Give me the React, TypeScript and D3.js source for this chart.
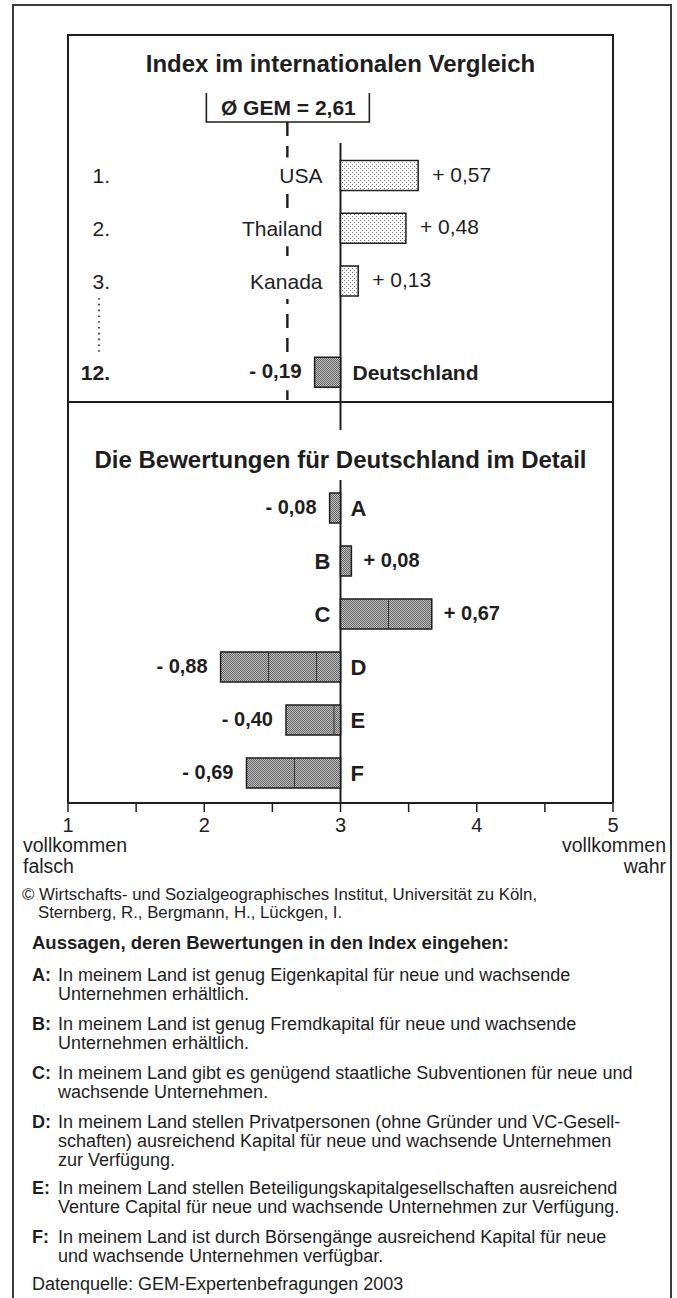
import React from "react";
import * as d3 from "d3";

// ---------- data ----------
const topRanks = ["1.", "2.", "3.", "12."];
const topCountries = ["USA", "Thailand", "Kanada", "Deutschland"];
const topValues = [0.57, 0.48, 0.13, -0.19];
const gemMean = 2.61;
const gemLabel = "Ø GEM = 2,61";

const detailItems = ["A", "B", "C", "D", "E", "F"];
const detailValues = [-0.08, 0.08, 0.67, -0.88, -0.4, -0.69];

const axisTicks = [1, 2, 3, 4, 5];
const axisMinor = [1, 1.5, 2, 2.5, 3, 3.5, 4, 4.5, 5];

const titleTop = "Index im internationalen Vergleich";
const titleBottom = "Die Bewertungen für Deutschland im Detail";
const leftEndLabel = ["vollkommen", "falsch"];
const rightEndLabel = ["vollkommen", "wahr"];
const copyrightLines = [
  "© Wirtschafts- und Sozialgeographisches Institut, Universität zu Köln,",
  "Sternberg, R., Bergmann, H., Lückgen, I.",
];
const statementsHeading = "Aussagen, deren Bewertungen in den Index eingehen:";
const statementKeys = ["A:", "B:", "C:", "D:", "E:", "F:"];
const statementLines = [
  ["In meinem Land ist genug Eigenkapital für neue und wachsende", "Unternehmen erhältlich."],
  ["In meinem Land ist genug Fremdkapital für neue und wachsende", "Unternehmen erhältlich."],
  ["In meinem Land gibt es genügend staatliche Subventionen für neue und", "wachsende Unternehmen."],
  [
    "In meinem Land stellen Privatpersonen (ohne Gründer und VC-Gesell-",
    "schaften) ausreichend Kapital für neue und wachsende Unternehmen",
    "zur Verfügung.",
  ],
  [
    "In meinem Land stellen Beteiligungskapitalgesellschaften ausreichend",
    "Venture Capital für neue und wachsende Unternehmen zur Verfügung.",
  ],
  ["In meinem Land ist durch Börsengänge ausreichend Kapital für neue", "und wachsende Unternehmen verfügbar."],
];
const sourceNote = "Datenquelle: GEM-Expertenbefragungen 2003";

// ---------- helpers ----------
const fmt = (v: number) =>
  (v >= 0 ? "+ " : "- ") + d3.format(".2f")(Math.abs(v)).replace(".", ",");

const FONT = "'Liberation Sans', Arial, Helvetica, sans-serif";
const INK = "#1e1e1e";

export default function App() {
  const W = 677;
  const H = 1298;

  // layout
  const frame = { left: 13, right: 671, top: 5 };
  const inner = { left: 68, right: 613, top: 35, divider: 402, axis: 803 };

  const x = d3.scaleLinear().domain([1, 5]).range([inner.left, inner.right]);
  const zero = x(3);

  // top panel rows (rank slots; Deutschland after the ellipsis)
  const topSlots = [0, 1, 2, 3.73];
  const yTop = d3.scaleLinear().domain([0, 1]).range([175.5, 228.25]);
  const barH = 30;

  // bottom panel rows
  const yBot = d3.scalePoint<string>().domain(detailItems).range([481.5, 799.5]).padding(0.5);

  const dashX = x(gemMean);
  const tile = 48;

  const statementStarts = [974, 1023, 1072, 1121, 1187, 1236];
  const lineGap = 19;
  const stFont = 18;

  return (
    <svg
      width={W}
      height={H}
      viewBox={`0 0 ${W} ${H}`}
      style={{ position: "absolute", left: 0, top: 0, background: "#fff" }}
      fontFamily={FONT}
    >
      <defs>
        <pattern id="light" width="4" height="4" patternUnits="userSpaceOnUse">
          <rect width="4" height="4" fill="#fff" />
          <rect x="0" y="0" width="1" height="1" fill="#777" />
          <rect x="2" y="2" width="1" height="1" fill="#777" />
        </pattern>
        <pattern id="dark" width="2" height="2" patternUnits="userSpaceOnUse">
          <rect width="2" height="2" fill="#bdbdbd" />
          <rect x="0" y="0" width="1" height="1" fill="#686868" />
          <rect x="1" y="1" width="1" height="1" fill="#686868" />
        </pattern>
      </defs>

      <rect width={W} height={H} fill="#fff" />

      {/* outer frame (open at bottom) */}
      <path
        d={`M${frame.left},${H} V${frame.top} H${frame.right} V${H}`}
        fill="none"
        stroke="#3a3a3a"
        strokeWidth={2}
      />

      {/* inner box */}
      <path
        d={`M${inner.left},${inner.axis} V${inner.top} H${inner.right} V${inner.axis}`}
        fill="none"
        stroke={INK}
        strokeWidth={2}
      />
      <line x1={inner.left} x2={inner.right} y1={inner.divider} y2={inner.divider} stroke={INK} strokeWidth={2} />

      {/* ---------- top panel ---------- */}
      <text x={(inner.left + inner.right) / 2} y={72} textAnchor="middle" fontSize={24} fontWeight="bold" fill={INK}>
        {titleTop}
      </text>

      {/* GEM bracket */}
      <path
        d={`M${dashX - 81},93 V122 H${dashX + 82} V93`}
        fill="none"
        stroke={INK}
        strokeWidth={1.6}
      />
      <text x={dashX + 1} y={115} textAnchor="middle" fontSize={21} fontWeight="bold" fill={INK}>
        {gemLabel}
      </text>

      {/* dashed mean line */}
      <line
        x1={dashX}
        x2={dashX}
        y1={122}
        y2={inner.divider}
        stroke={INK}
        strokeWidth={2.4}
        strokeDasharray="14 10"
      />
      {/* knock-outs behind labels */}
      {topSlots.map((s, i) => (
        <rect key={"ko" + i} x={dashX - 3} y={yTop(s) - 18} width={6} height={36} fill="#fff" />
      ))}

      {/* zero line */}
      <line x1={zero} x2={zero} y1={143} y2={430} stroke={INK} strokeWidth={2} />

      {topValues.map((v, i) => {
        const cy = yTop(topSlots[i]);
        const x0 = Math.min(x(3), x(3 + v));
        const x1 = Math.max(x(3), x(3 + v));
        const isDE = v < 0;
        return (
          <g key={"top" + i}>
            <rect
              x={x0}
              y={cy - barH / 2}
              width={x1 - x0}
              height={barH}
              fill={isDE ? "url(#dark)" : "url(#light)"}
              stroke={INK}
              strokeWidth={1.5}
            />
            <text
              x={110}
              y={cy + 7.5}
              textAnchor="end"
              fontSize={21}
              fontWeight={isDE ? "bold" : "normal"}
              fill={INK}
            >
              {topRanks[i]}
            </text>
            {isDE ? (
              <>
                <text x={x0 - 13} y={cy + 6} textAnchor="end" fontSize={20.5} fontWeight="bold" fill={INK}>
                  {fmt(v)}
                </text>
                <text x={zero + 12} y={cy + 8} fontSize={21} fontWeight="bold" fill={INK}>
                  {topCountries[i]}
                </text>
              </>
            ) : (
              <>
                <text x={zero - 18} y={cy + 7.5} textAnchor="end" fontSize={21} fill={INK}>
                  {topCountries[i]}
                </text>
                <text x={x1 + 14} y={cy + 6} fontSize={21} fill={INK}>
                  {fmt(v)}
                </text>
              </>
            )}
          </g>
        );
      })}

      {/* dotted ellipsis under rank 3 */}
      <line x1={99} x2={99} y1={298} y2={352} stroke={INK} strokeWidth={1.6} strokeDasharray="1.6 4.2" />

      {/* ---------- bottom panel ---------- */}
      <text x={(inner.left + inner.right) / 2} y={468} textAnchor="middle" fontSize={24} fontWeight="bold" fill={INK}>
        {titleBottom}
      </text>
      <line x1={zero} x2={zero} y1={480} y2={inner.axis} stroke={INK} strokeWidth={2} />

      {detailValues.map((v, i) => {
        const cy = yBot(detailItems[i]) as number;
        const x0 = Math.min(x(3), x(3 + v));
        const x1 = Math.max(x(3), x(3 + v));
        const seams: number[] = [];
        for (let s = x0 + tile; s < x1 - 1; s += tile) seams.push(s);
        return (
          <g key={"bot" + i}>
            <rect
              x={x0}
              y={cy - barH / 2}
              width={x1 - x0}
              height={barH}
              fill="url(#dark)"
              stroke={INK}
              strokeWidth={1.5}
            />
            {seams.map((s, k) => (
              <line key={k} x1={s} x2={s} y1={cy - barH / 2} y2={cy + barH / 2} stroke="#333" strokeWidth={1} />
            ))}
            {v < 0 ? (
              <>
                <text x={x0 - 13} y={cy + 6} textAnchor="end" fontSize={20} fontWeight="bold" fill={INK}>
                  {fmt(v)}
                </text>
                <text x={zero + 10} y={cy + 8} fontSize={22} fontWeight="bold" fill={INK}>
                  {detailItems[i]}
                </text>
              </>
            ) : (
              <>
                <text x={zero - 10} y={cy + 8} textAnchor="end" fontSize={22} fontWeight="bold" fill={INK}>
                  {detailItems[i]}
                </text>
                <text x={x1 + 12} y={cy + 6} fontSize={20} fontWeight="bold" fill={INK}>
                  {fmt(v)}
                </text>
              </>
            )}
          </g>
        );
      })}

      {/* ---------- axis ---------- */}
      <line x1={x(1)} x2={x(5)} y1={inner.axis} y2={inner.axis} stroke={INK} strokeWidth={2.2} />
      {axisMinor.map((t) => (
        <line key={"t" + t} x1={x(t)} x2={x(t)} y1={inner.axis} y2={inner.axis + 9} stroke={INK} strokeWidth={1.5} />
      ))}
      {axisTicks.map((t) => (
        <text key={"l" + t} x={x(t)} y={832} textAnchor="middle" fontSize={20} fill={INK}>
          {t}
        </text>
      ))}
      {leftEndLabel.map((s, i) => (
        <text key={"le" + i} x={23} y={852 + i * 20.5} fontSize={19.5} fill={INK}>
          {s}
        </text>
      ))}
      {rightEndLabel.map((s, i) => (
        <text key={"re" + i} x={666} y={852 + i * 20.5} textAnchor="end" fontSize={19.5} fill={INK}>
          {s}
        </text>
      ))}

      {/* ---------- notes ---------- */}
      <text x={22} y={900} fontSize={16.8} fill={INK}>
        {copyrightLines[0]}
      </text>
      <text x={38} y={918} fontSize={16.8} fill={INK}>
        {copyrightLines[1]}
      </text>
      <text x={32} y={949} fontSize={18.5} fontWeight="bold" fill={INK}>
        {statementsHeading}
      </text>

      {statementKeys.map((k, i) => (
        <g key={"st" + i}>
          <text x={32} y={statementStarts[i] + 6.5} fontSize={stFont} fontWeight="bold" fill={INK}>
            {k}
          </text>
          {statementLines[i].map((ln, j) => (
            <text key={j} x={58} y={statementStarts[i] + 6.5 + j * lineGap} fontSize={stFont} fill={INK}>
              {ln}
            </text>
          ))}
        </g>
      ))}
      <text x={32} y={1290} fontSize={stFont} fill={INK}>
        {sourceNote}
      </text>
    </svg>
  );
}
